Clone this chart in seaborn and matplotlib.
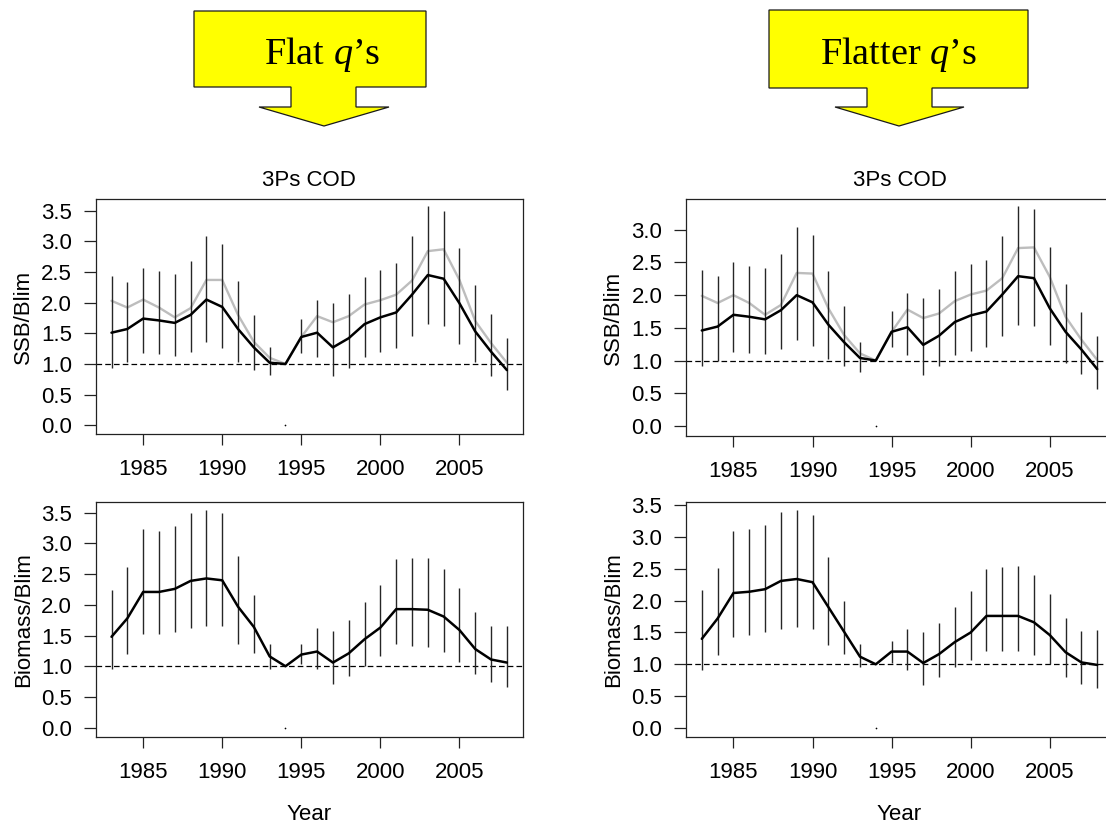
import numpy as np
import matplotlib
matplotlib.use("Agg")
import matplotlib.pyplot as plt
from matplotlib.patches import Polygon
import seaborn as sns

sns.set_style("ticks")
plt.rcParams['font.family'] = ['Liberation Sans', 'DejaVu Sans']
plt.rcParams['text.color'] = 'black'
plt.rcParams['axes.labelcolor'] = 'black'
plt.rcParams['mathtext.fontset'] = 'custom'
plt.rcParams['mathtext.rm'] = 'Liberation Serif'
plt.rcParams['mathtext.it'] = 'Liberation Serif:italic'

years = np.arange(1983, 2009)
blim_year = 1994

# Flat q's
flat_ssb = [1.51, 1.57, 1.74, 1.71, 1.67, 1.80, 2.05, 1.93, 1.57, 1.27, 1.02, 1.00, 1.44,
            1.51, 1.27, 1.42, 1.65, 1.76, 1.84, 2.13, 2.45, 2.39, 1.99, 1.53, 1.20, 0.90]
flat_ssb_alt = [2.03, 1.92, 2.05, 1.92, 1.76, 1.91, 2.37, 2.37, 1.80, 1.36, 1.10, 1.00, 1.44,
                1.78, 1.68, 1.78, 1.97, 2.04, 2.13, 2.36, 2.84, 2.87, 2.37, 1.70, 1.34, 1.02]
flat_ssb_hi = [2.43, 2.33, 2.56, 2.51, 2.46, 2.68, 3.08, 2.95, 2.36, 1.80, 1.27, np.nan, 1.73,
               2.05, 1.99, 2.14, 2.41, 2.54, 2.64, 3.08, 3.58, 3.50, 2.89, 2.28, 1.82, 1.42]
flat_ssb_lo = [0.93, 1.03, 1.18, 1.17, 1.13, 1.20, 1.35, 1.26, 1.03, 0.90, 0.82, np.nan, 1.18,
               1.11, 0.80, 0.94, 1.11, 1.20, 1.26, 1.46, 1.65, 1.62, 1.33, 1.03, 0.80, 0.58]
flat_bio = [1.48, 1.78, 2.21, 2.21, 2.26, 2.39, 2.43, 2.40, 1.97, 1.64, 1.16, 1.00, 1.19,
            1.24, 1.06, 1.21, 1.44, 1.63, 1.93, 1.93, 1.92, 1.81, 1.59, 1.28, 1.11, 1.06]
flat_bio_hi = [2.24, 2.62, 3.23, 3.21, 3.28, 3.49, 3.54, 3.49, 2.79, 2.16, 1.36, np.nan, 1.36,
               1.62, 1.57, 1.75, 2.05, 2.32, 2.75, 2.77, 2.77, 2.59, 2.27, 1.88, 1.65, 1.65]
flat_bio_lo = [0.95, 1.20, 1.52, 1.52, 1.55, 1.63, 1.65, 1.65, 1.37, 1.22, 0.95, np.nan, 1.04,
               0.95, 0.71, 0.84, 1.00, 1.16, 1.36, 1.33, 1.32, 1.24, 1.07, 0.87, 0.75, 0.67]

# Flatter q's
flatter_ssb = [1.46, 1.52, 1.70, 1.67, 1.63, 1.77, 2.00, 1.89, 1.55, 1.28, 1.04, 1.00, 1.44,
               1.51, 1.24, 1.38, 1.59, 1.69, 1.75, 2.01, 2.29, 2.26, 1.80, 1.44, 1.17, 0.87]
flatter_ssb_alt = [1.99, 1.88, 2.00, 1.88, 1.70, 1.85, 2.34, 2.33, 1.80, 1.39, 1.11, 1.00, 1.44,
                   1.78, 1.65, 1.72, 1.91, 2.01, 2.07, 2.26, 2.72, 2.73, 2.28, 1.67, 1.32, 1.01]
flatter_ssb_hi = [2.38, 2.30, 2.51, 2.45, 2.42, 2.63, 3.04, 2.92, 2.37, 1.83, 1.28, np.nan, 1.76,
                  2.04, 1.95, 2.10, 2.37, 2.47, 2.54, 2.90, 3.37, 3.31, 2.73, 2.17, 1.75, 1.38]
flatter_ssb_lo = [0.91, 1.00, 1.13, 1.11, 1.10, 1.17, 1.32, 1.23, 1.02, 0.91, 0.83, np.nan, 1.21,
                  1.09, 0.78, 0.91, 1.09, 1.15, 1.21, 1.37, 1.55, 1.53, 1.24, 0.97, 0.79, 0.57]
flatter_bio = [1.40, 1.72, 2.12, 2.14, 2.18, 2.31, 2.34, 2.29, 1.90, 1.51, 1.12, 1.00, 1.20,
               1.20, 1.02, 1.16, 1.35, 1.50, 1.76, 1.76, 1.76, 1.66, 1.46, 1.19, 1.03, 0.99]
flatter_bio_hi = [2.17, 2.51, 3.10, 3.12, 3.19, 3.39, 3.42, 3.34, 2.68, 2.00, 1.32, np.nan, 1.36,
                  1.56, 1.50, 1.65, 1.90, 2.15, 2.49, 2.53, 2.54, 2.40, 2.10, 1.73, 1.52, 1.54]
flatter_bio_lo = [0.91, 1.15, 1.43, 1.46, 1.50, 1.55, 1.59, 1.56, 1.31, 1.16, 0.95, np.nan, 1.02,
                  0.91, 0.68, 0.80, 0.95, 1.06, 1.21, 1.21, 1.21, 1.15, 1.00, 0.80, 0.69, 0.63]

yticks = [0.0, 0.5, 1.0, 1.5, 2.0, 2.5, 3.0, 3.5]
xticks = [1985, 1990, 1995, 2000, 2005]

W, H = 1106, 827
fig = plt.figure(figsize=(W / 100, H / 100), dpi=100)


def px(x0, y0, x1, y1):
    # pixel box (top-left origin) -> figure fraction rect
    return [x0 / W, 1 - y1 / H, (x1 - x0) / W, (y1 - y0) / H]


def panel(rect, ylim, mid, lo, hi, ylabel, alt=None, title=None, xlabel=None):
    ax = fig.add_axes(rect)
    if alt is not None:
        sns.lineplot(x=years, y=alt, ax=ax, color='#bdbdbd', lw=1.7)
    ax.axhline(1.0, color='black', lw=0.9, ls=(0, (4.5, 2.5)))
    ax.vlines(years, lo, hi, color='#262626', lw=1.0)
    sns.lineplot(x=years, y=mid, ax=ax, color='black', lw=1.8)
    sns.scatterplot(x=[blim_year], y=[0.0], ax=ax, color='black', s=1.5, linewidth=0)
    ax.set_xlim(1982, 2009)
    ax.set_ylim(*ylim)
    ax.set_xticks(xticks)
    ax.set_yticks([t for t in yticks if t <= ylim[1]])
    ax.set_yticklabels([f'{t:.1f}' for t in yticks if t <= ylim[1]])
    ax.tick_params(axis='x', direction='out', length=8, width=0.9, pad=10,
                   labelsize=16, colors='#222222', labelcolor='black')
    ax.tick_params(axis='y', direction='out', length=9, width=0.9, pad=8,
                   labelsize=16, colors='#222222', labelcolor='black')
    for s in ax.spines.values():
        s.set_visible(True)
        s.set_linewidth(0.9)
        s.set_color('#222222')
    ax.set_ylabel(ylabel, fontsize=16)
    ax.yaxis.set_label_coords(-0.145, 0.5)
    if title:
        ax.set_title(title, fontsize=16, pad=9, color='black')
    if xlabel:
        ax.set_xlabel(xlabel, fontsize=16)
        ax.xaxis.set_label_coords(0.5, -0.285)
    else:
        ax.set_xlabel('')
    return ax


panel(px(95.7, 199, 522.7, 434.3), (-0.147, 3.69), flat_ssb, flat_ssb_lo, flat_ssb_hi,
      'SSB/Blim', alt=flat_ssb_alt, title='3Ps COD')
panel(px(686, 199, 1113, 436), (-0.153, 3.47), flatter_ssb, flatter_ssb_lo, flatter_ssb_hi,
      'SSB/Blim', alt=flatter_ssb_alt, title='3Ps COD')
panel(px(95.7, 502.3, 522.7, 737.3), (-0.157, 3.67), flat_bio, flat_bio_lo, flat_bio_hi,
      'Biomass/Blim', xlabel='Year')
panel(px(686, 502, 1113, 737.3), (-0.147, 3.55), flatter_bio, flatter_bio_lo, flatter_bio_hi,
      'Biomass/Blim', xlabel='Year')


# yellow block arrows with headings
def block_arrow(bx0, bx1, by0, by1, sx0, sx1, hx0, hx1, tip_x, head_y, tip_y, label, tx):
    pts = [(bx0, by0), (bx1, by0), (bx1, by1), (sx1, by1), (sx1, head_y), (hx1, head_y),
           (tip_x, tip_y), (hx0, head_y), (sx0, head_y), (sx0, by1), (bx0, by1)]
    pts = [(x / W, 1 - y / H) for x, y in pts]
    fig.patches.append(Polygon(pts, closed=True, facecolor='#ffff00', edgecolor='#1a1a1a',
                               lw=0.9, transform=fig.transFigure))
    fig.text(tx / W, 1 - 55 / H, label, ha='center', va='center', fontsize=27.5,
             family=['Liberation Serif', 'DejaVu Serif'])


block_arrow(194, 426, 11, 87, 291, 356, 259, 389, 324, 107, 126, "Flat $q$\u2019s", 322)
block_arrow(769, 1028, 10, 88, 867, 932, 835, 964, 899, 107, 126, "Flatter $q$\u2019s", 898)

fig.savefig('out.png', dpi=100)
